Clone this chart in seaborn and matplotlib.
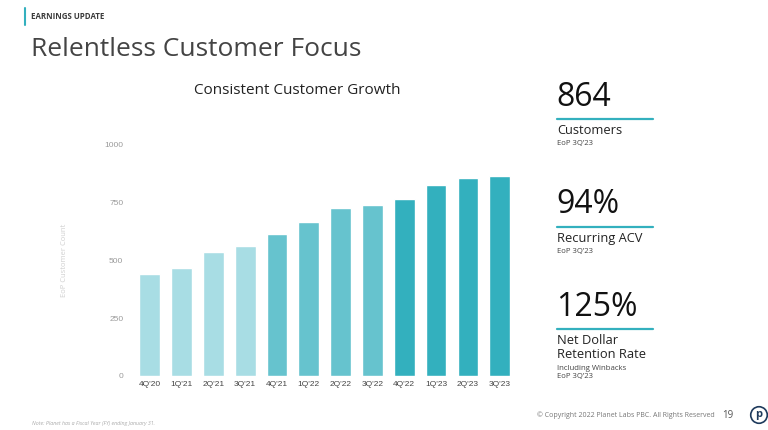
import matplotlib
matplotlib.use('Agg')
import matplotlib.pyplot as plt
import seaborn as sns
import pandas as pd

quarters = ["4Q'20", "1Q'21", "2Q'21", "3Q'21", "4Q'21", "1Q'22",
            "2Q'22", "3Q'22", "4Q'22", "1Q'23", "2Q'23", "3Q'23"]
customers = [441, 467, 538, 561, 616, 668, 728, 738, 768, 826, 855, 864]
year_group = ['FY21', 'FY21', 'FY21', 'FY21', 'FY22', 'FY22',
              'FY22', 'FY22', 'FY23', 'FY23', 'FY23', 'FY23']
y_ticks = [0, 250, 500, 750, 1000]

kpi_values = ['864', '94%', '125%']
kpi_labels = ['Customers', 'Recurring ACV', 'Net Dollar\nRetention Rate']
kpi_notes = ['EoP 3Q\u201923', 'EoP 3Q\u201923', 'Including Winbacks\nEoP 3Q\u201923']

teal = '#33b0be'
palette = {'FY21': '#a8dde4', 'FY22': '#66c3ce', 'FY23': teal}

sns.set_style('white')
plt.rcParams['font.family'] = ['Open Sans', 'DejaVu Sans']

df = pd.DataFrame({'quarter': quarters, 'customers': customers, 'group': year_group})

fig = plt.figure(figsize=(7.68, 4.30), dpi=100)
ax = fig.add_axes([0.1742, 0.1263, 0.4972, 0.5365])

sns.barplot(data=df, x='quarter', y='customers', hue='group', palette=palette,
            dodge=False, width=0.65, legend=False, ax=ax, saturation=1)

ax.set_xlim(-0.5, len(quarters) - 0.5)
ax.set_ylim(0, 1000)
ax.set_yticks(y_ticks)
ax.set_xlabel('')
ax.set_ylabel('EoP Customer Count', fontsize=5.5, color='#d0d0d0', labelpad=26)
sns.despine(ax=ax, left=True, bottom=True)
ax.tick_params(axis='y', length=0, pad=7.5, labelsize=6, labelcolor='#9a9a9a')
ax.tick_params(axis='x', length=0, pad=4, labelsize=6, labelcolor='#444444')
for lab in ax.get_xticklabels() + ax.get_yticklabels():
    lab.set_family('Liberation Sans')

# slide header
fig.add_artist(plt.Line2D([25 / 768, 25 / 768], [1 - 8 / 430, 1 - 25 / 430],
                          color=teal, lw=1.5))
fig.text(31 / 768, 1 - 16.7 / 430, 'EARNINGS UPDATE', fontsize=5.7,
         fontweight='bold', color='#3a3a3a', va='center')
fig.text(31 / 768, 1 - 50 / 430, 'Relentless Customer Focus', fontsize=19,
         color='#444444', va='center')
fig.text(297 / 768, 1 - 90 / 430, 'Consistent Customer Growth', fontsize=11,
         color='#222222', ha='center', va='center')

# KPI column
kpi_y = [97, 205, 307]
for i in range(3):
    y0 = kpi_y[i]
    fig.text(556 / 768, 1 - y0 / 430, kpi_values[i], fontsize=23,
             color='#111111', va='center')
    fig.add_artist(plt.Line2D([557 / 768, 653 / 768],
                              [1 - (y0 + 22) / 430, 1 - (y0 + 22) / 430],
                              color=teal, lw=1.6))
    n_lab = kpi_labels[i].count('\n') + 1
    fig.text(557 / 768, 1 - (y0 + 27) / 430, kpi_labels[i], fontsize=9.3,
             color='#222222', va='top', linespacing=1.1)
    note_top = y0 + 27 + n_lab * 15.5
    fig.text(557 / 768, 1 - note_top / 430, kpi_notes[i], fontsize=5.6,
             color='#444444', va='top', linespacing=1.15)

# footer
fig.text(32 / 768, 1 - 423 / 430, 'Note: Planet has a Fiscal Year (FY) ending January 31.',
         fontsize=3.8, style='italic', color='#aaaaaa', va='center')
fig.text(715 / 768, 1 - 415.5 / 430,
         '\u00a9 Copyright 2022 Planet Labs PBC. All Rights Reserved',
         fontsize=5, color='#777777', ha='right', va='center')
fig.text(728 / 768, 1 - 415 / 430, '19', fontsize=7, color='#555555',
         ha='center', va='center')
fig.text(759 / 768, 1 - 415 / 430, 'p', fontsize=8, fontweight='bold', color='#1e3a5c',
         ha='center', va='center',
         bbox=dict(boxstyle='circle,pad=0.25', fc='white', ec='#1e3a5c', lw=1.2))

fig.savefig('out.png', dpi=100)
